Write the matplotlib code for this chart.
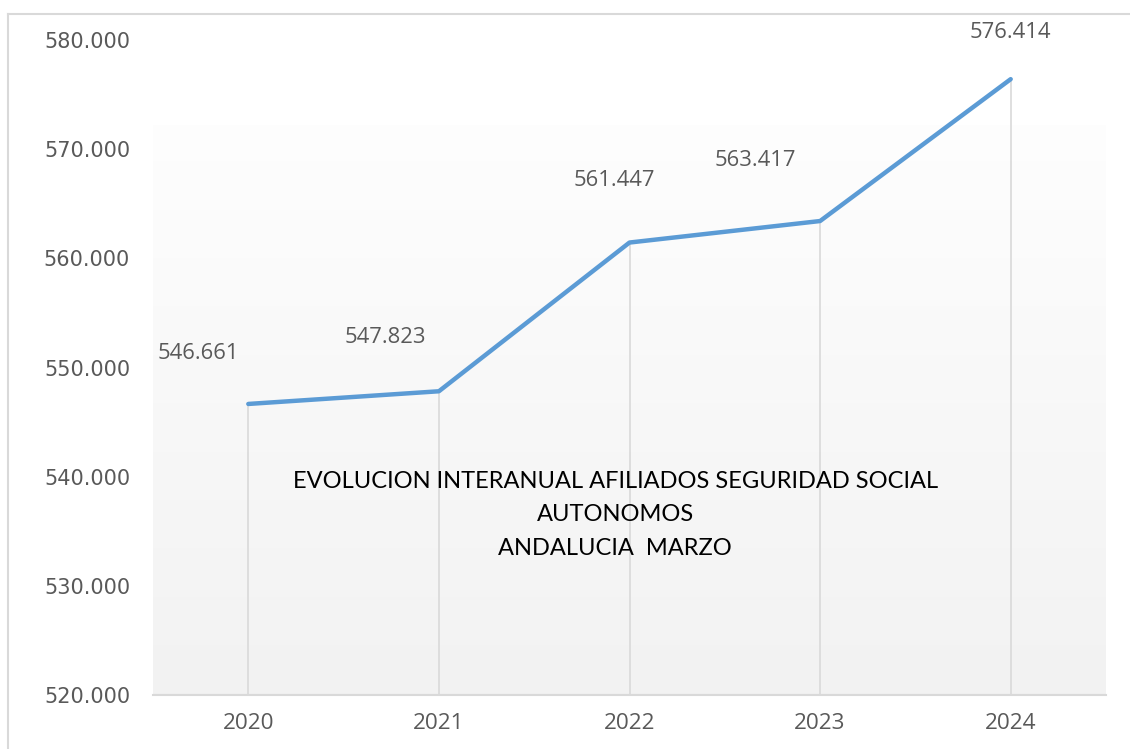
import matplotlib
matplotlib.use("Agg")
import matplotlib.pyplot as plt
import numpy as np

# afiliados autonomos, Andalucia, marzo de cada año
years = ["2020", "2021", "2022", "2023", "2024"]
afiliados = [546661, 547823, 561447, 563417, 576414]
labels = ["546.661", "547.823", "561.447", "563.417", "576.414"]
# manual label offsets in pixels (as placed in the original sheet)
label_dx = [-50, -54, -15, -65, 0]
label_dy = [50, 54, 62, 61, 47]
yticks = [520000, 530000, 540000, 550000, 560000, 570000, 580000]
ytick_labels = ["520.000", "530.000", "540.000", "550.000", "560.000", "570.000", "580.000"]
title_lines = ["EVOLUCION INTERANUAL AFILIADOS SEGURIDAD SOCIAL", "AUTONOMOS", "ANDALUCIA  MARZO"]

grey = "#595959"
fig = plt.figure(figsize=(11.3, 7.49), dpi=100)
ax = fig.add_axes([153 / 1130, 54 / 749, 953 / 1130, 655 / 749])

x = np.arange(len(years))
ax.set_xlim(-0.5, len(years) - 0.5)
ax.set_ylim(520000, 580000)

# plot area fill: soft vertical gradient, starts a bit under the top
grad = np.linspace(0, 1, 256).reshape(-1, 1)
top_col = np.array([0.995, 0.995, 0.995])
bot_col = np.array([0.949, 0.949, 0.949])
img = top_col + (bot_col - top_col) * grad
img = img.reshape(256, 1, 3)
ax.imshow(img, extent=(-0.5, len(years) - 0.5, 520000, 572200), aspect="auto",
          origin="upper", zorder=0)

# drop lines
ax.vlines(x, 520000, afiliados, colors="#d9d9d9", linewidth=1.2, zorder=1)
ax.plot(x, afiliados, color="#5b9bd5", linewidth=3.2, solid_capstyle="round",
        solid_joinstyle="round", zorder=3)

for i in range(len(years)):
    ax.annotate(labels[i], (x[i], afiliados[i]), xytext=(label_dx[i], label_dy[i]),
                textcoords="offset pixels", ha="center", va="center",
                fontsize=15.8, color=grey, family="Open Sans")

ax.text(0.485, 0.275, "\n".join(title_lines), transform=ax.transAxes,
        ha="center", va="center", fontsize=17, color="black", family="Lato",
        linespacing=1.72)

for s in ["top", "right", "left"]:
    ax.spines[s].set_visible(False)
ax.spines["bottom"].set_color("#d9d9d9")
ax.spines["bottom"].set_linewidth(1.5)

ax.set_xticks(x)
ax.set_xticklabels(years, family="Open Sans", fontsize=16.2, color=grey)
ax.set_yticks(yticks)
ax.set_yticklabels(ytick_labels, fontsize=15, color=grey)
ax.tick_params(axis="both", length=0)
ax.tick_params(axis="y", pad=16.5)
ax.tick_params(axis="x", pad=13)

# chart border (visible on top and left)
fig.add_artist(plt.Line2D([8 / 1130, 8 / 1130], [0, 1 - 14 / 749], color="#d9d9d9", linewidth=1.5))
fig.add_artist(plt.Line2D([8 / 1130, 1], [1 - 14 / 749, 1 - 14 / 749], color="#d9d9d9", linewidth=1.5))

fig.savefig("out.png", dpi=100)
